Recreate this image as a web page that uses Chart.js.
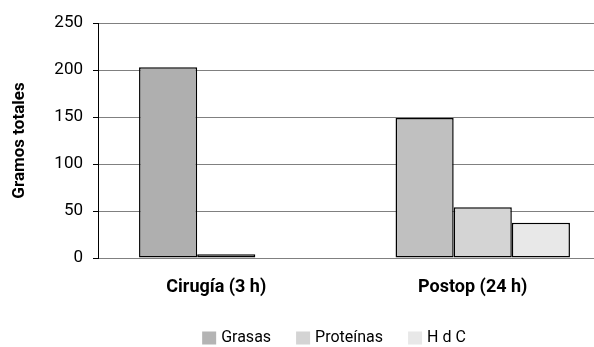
<!DOCTYPE html>
<html>
<head>
<meta charset="utf-8">
<script src="https://cdn.jsdelivr.net/npm/chart.js@4.4.1/dist/chart.umd.min.js"></script>
<style>
  html, body { margin: 0; padding: 0; background: #fff; overflow: hidden; }
  #wrap { width: 594px; height: 347px; overflow: hidden; position: relative; }
  canvas { display: block; }
</style>
</head>
<body>
<div id="wrap"><canvas id="c" width="672" height="347"></canvas></div>
<script>
// Gramos totales por momento y macronutriente
const categories = ['Cirugía (3 h)', 'Postop (24 h)'];
const grasas = [203, 149];
const proteinas = [4, 54];
const hdc = [0.5, 37.5];
const seriesNames = ['Grasas', 'Proteínas', 'H d C'];
const yTicks = [0, 50, 100, 150, 200, 250];

const FONT = 'Roboto, "Liberation Sans", sans-serif';
const legendColors = ['#b4b4b4', '#d4d4d4', '#e8e8e8'];

// Legend drawn in a single centred row beneath the axis labels
const bottomLegend = {
  id: 'bottomLegend',
  afterDraw(chart) {
    const ctx = chart.ctx;
    const box = 14, boxH = 13, gapText = 5, gapItem = 25, yMid = 338, xCenter = 334;
    ctx.save();
    ctx.font = '16px ' + FONT;
    ctx.textBaseline = 'middle';
    ctx.textAlign = 'left';
    const items = chart.data.datasets.map((d, i) => ({
      text: d.label, color: legendColors[i], w: ctx.measureText(d.label).width
    }));
    const total = items.reduce((s, it) => s + box + gapText + it.w, 0) + gapItem * (items.length - 1);
    let x = xCenter - total / 2;
    items.forEach(it => {
      ctx.fillStyle = it.color;
      ctx.fillRect(x, yMid - boxH / 2, box, boxH);
      ctx.fillStyle = '#000';
      ctx.fillText(it.text, x + box + gapText, yMid);
      x += box + gapText + it.w + gapItem;
    });
    ctx.restore();
  }
};

new Chart(document.getElementById('c'), {
  type: 'bar',
  data: {
    labels: categories,
    datasets: [
      { label: seriesNames[0], data: grasas, backgroundColor: ['#afafaf', '#c0c0c0'] },
      { label: seriesNames[1], data: proteinas, backgroundColor: '#d4d4d4' },
      { label: seriesNames[2], data: hdc, backgroundColor: '#e8e8e8' }
    ].map(d => Object.assign(d, {
      borderColor: '#000', borderWidth: 1.5, borderSkipped: false,
      barPercentage: 1, categoryPercentage: 0.68
    }))
  },
  plugins: [bottomLegend],
  options: {
    responsive: false,
    animation: false,
    devicePixelRatio: 1,
    layout: { padding: { top: 23, right: 61, left: 0, bottom: 37 } },
    plugins: {
      tooltip: { enabled: false },
      legend: { display: false }
    },
    scales: {
      x: {
        grid: { display: false },
        border: { display: false },
        ticks: { color: '#000', padding: 11, labelOffset: -10, font: { family: FONT, size: 18, weight: 'bold' } },
        afterFit: (s) => { s.height = 52; }
      },
      y: {
        min: 0, max: 250,
        afterBuildTicks: (s) => { s.ticks = yTicks.map(v => ({ value: v })); },
        grid: { color: '#808080', lineWidth: 1, tickLength: 5, tickColor: '#000' },
        border: { display: true, color: '#000', width: 1 },
        ticks: { color: '#000', padding: 10, font: { family: FONT, size: 17 } },
        title: {
          display: true, text: 'Gramos totales', color: '#000',
          font: { family: FONT, size: 17, weight: 'bold' }, padding: { top: 10, bottom: 0 }
        },
        afterFit: (s) => { s.width = 98; }
      }
    }
  }
});
</script>
</body>
</html>
